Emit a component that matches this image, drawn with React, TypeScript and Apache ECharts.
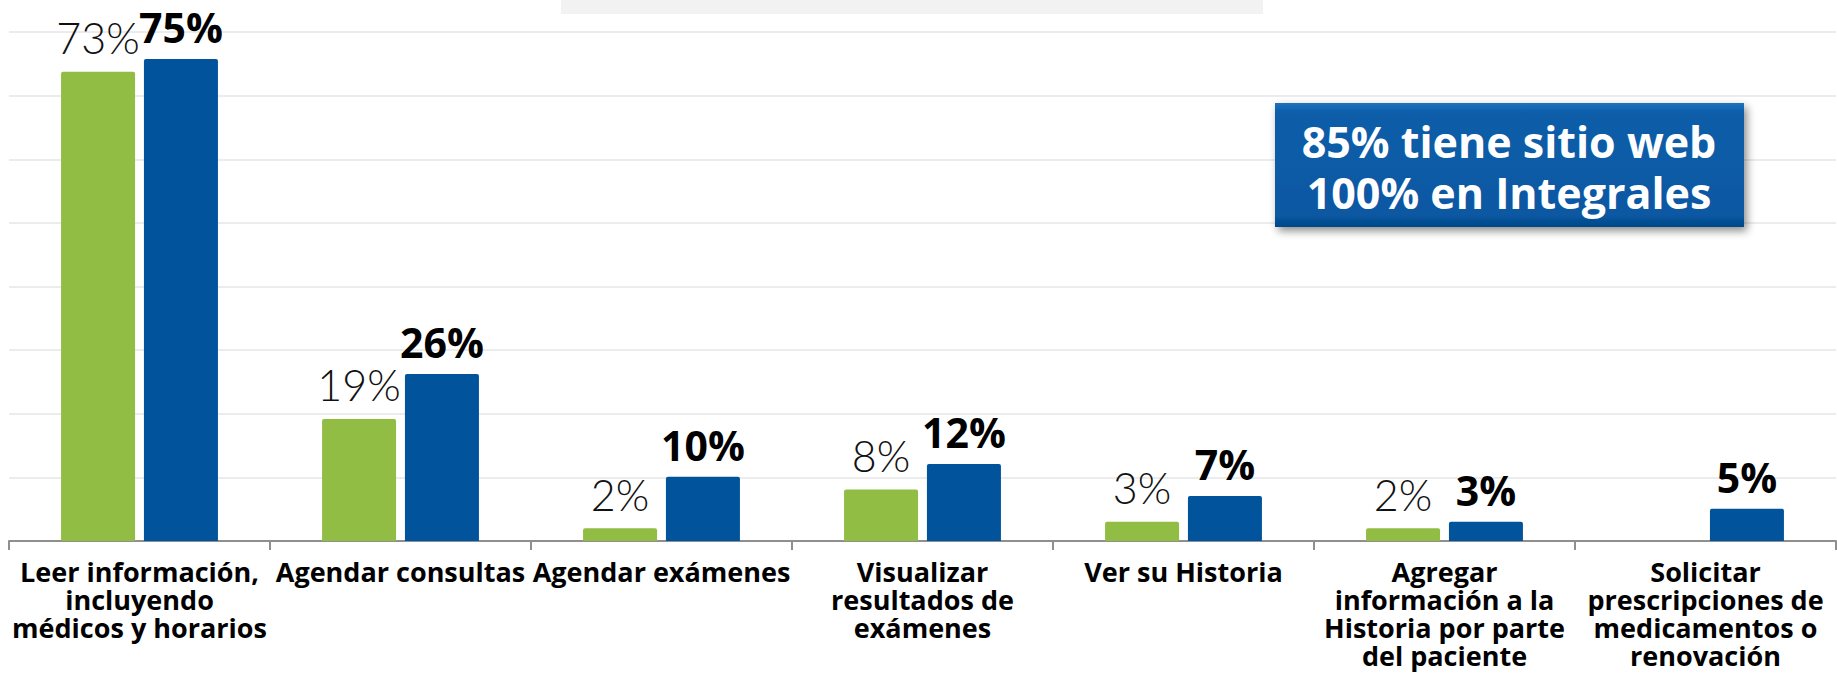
import React, { useEffect, useRef } from "react";
import * as echarts from "echarts";

const categories = [
  "Leer información,\nincluyendo\nmédicos y horarios",
  "Agendar consultas",
  "Agendar exámenes",
  "Visualizar\nresultados de\nexámenes",
  "Ver su Historia",
  "Agregar\ninformación a la\nHistoria por parte\ndel paciente",
  "Solicitar\nprescripciones de\nmedicamentos o\nrenovación",
];
const greenValues: (number | null)[] = [73, 19, 2, 8, 3, 2, null];
const blueValues: number[] = [75, 26, 10, 12, 7, 3, 5];
const noteLines = ["85% tiene sitio web", "100% en Integrales"];

const GREEN = "#91BD44";
const BLUE = "#01539C";

export default function App() {
  const ref = useRef<HTMLDivElement>(null);
  useEffect(() => {
    if (!ref.current) return;
    const chart = echarts.init(ref.current, undefined, { renderer: "svg" });
    chart.setOption({
      animation: false,
      backgroundColor: "#ffffff",
      grid: { left: 9, right: 1, top: 32, bottom: 133 },
      xAxis: {
        type: "category",
        data: categories,
        axisLine: { lineStyle: { color: "#8f8f8f", width: 2 } },
        axisTick: { show: true, length: 9, lineStyle: { color: "#8f8f8f", width: 2 } },
        axisLabel: {
          interval: 0,
          margin: 16,
          color: "#000",
          fontFamily: "Open Sans",
          fontWeight: "bold",
          fontSize: 27,
          lineHeight: 28,
        },
      },
      yAxis: {
        type: "value",
        min: 0,
        max: 79.2,
        interval: 9.9,
        axisLabel: { show: false },
        axisLine: { show: false },
        axisTick: { show: false },
        splitLine: { lineStyle: { color: "#ececec", width: 2 } },
      },
      series: [
        {
          type: "bar",
          data: greenValues,
          barWidth: 74,
          barGap: "12%",
          itemStyle: { color: GREEN, borderRadius: [2, 2, 0, 0] },
          label: {
            show: true,
            position: "top",
            distance: 15,
            lineHeight: 38,
            formatter: "{c}%",
            color: "#111",
            fontFamily: "Lato",
            fontWeight: 300,
            fontSize: 43,
          },
        },
        {
          type: "bar",
          data: blueValues,
          barWidth: 74,
          itemStyle: { color: BLUE, borderRadius: [2, 2, 0, 0] },
          label: {
            show: true,
            position: "top",
            distance: 14,
            lineHeight: 36,
            formatter: "{c}%",
            color: "#000",
            fontFamily: "Open Sans",
            fontWeight: "bold",
            fontSize: 41,
          },
        },
      ],
      graphic: [
        {
          type: "rect",
          z: 100,
          shape: { x: 561, y: 0, width: 702, height: 14 },
          style: { fill: "#f2f2f2" },
          silent: true,
        },
        {
          type: "rect",
          z: 100,
          shape: { x: 1275, y: 103, width: 469, height: 124 },
          style: {
            fill: {
              type: "linear",
              x: 0,
              y: 0,
              x2: 0,
              y2: 1,
              colorStops: [
                { offset: 0, color: "#1f72bd" },
                { offset: 0.08, color: "#0a5da9" },
                { offset: 0.9, color: "#0858a3" },
                { offset: 1, color: "#044887" },
              ],
            },
            shadowBlur: 8,
            shadowOffsetX: 3,
            shadowOffsetY: 4,
            shadowColor: "rgba(0,0,0,0.45)",
          },
          silent: true,
        },
        {
          type: "text",
          z: 101,
          x: 1509,
          y: 167,
          style: {
            text: noteLines.join("\n"),
            fill: "#ffffff",
            fontFamily: "Open Sans",
            fontWeight: "bold",
            fontSize: 43,
            lineHeight: 51,
            textAlign: "center",
            textVerticalAlign: "middle",
          },
          silent: true,
        },
      ],
    });
    return () => chart.dispose();
  }, []);
  return (
    <div
      ref={ref}
      style={{ position: "absolute", left: 0, top: 0, width: 1837, height: 674 }}
    />
  );
}
